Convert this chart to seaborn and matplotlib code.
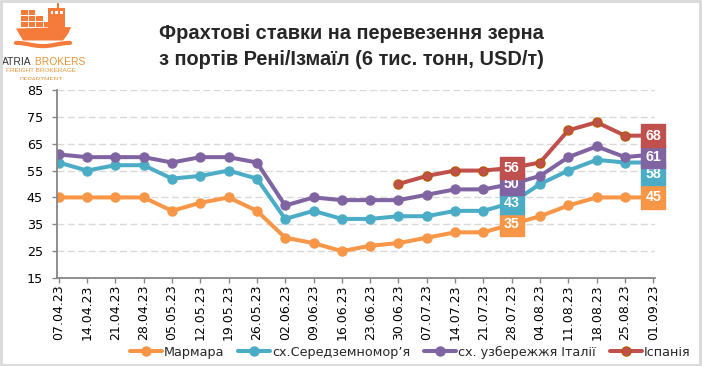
import numpy as np
import pandas as pd
import matplotlib
matplotlib.use("Agg")
import matplotlib.pyplot as plt
import matplotlib.patches as mpatches
from matplotlib.lines import Line2D
from matplotlib import font_manager as fm
import seaborn as sns

dates = ['07.04.23', '14.04.23', '21.04.23', '28.04.23', '05.05.23', '12.05.23',
         '19.05.23', '26.05.23', '02.06.23', '09.06.23', '16.06.23', '23.06.23',
         '30.06.23', '07.07.23', '14.07.23', '21.07.23', '28.07.23', '04.08.23',
         '11.08.23', '18.08.23', '25.08.23', '01.09.23']
marmara = [45, 45, 45, 45, 40, 43, 45, 40, 30, 28, 25, 27,
           28, 30, 32, 32, 35, 38, 42, 45, 45, 45]
east_med = [58, 55, 57, 57, 52, 53, 55, 52, 37, 40, 37, 37,
            38, 38, 40, 40, 43, 50, 55, 59, 58, 58]
italy = [61, 60, 60, 60, 58, 60, 60, 58, 42, 45, 44, 44,
         44, 46, 48, 48, 50, 53, 60, 64, 60, 61]
spain = [np.nan] * 12 + [50, 53, 55, 55, 56, 58, 70, 73, 68, 68]

series_names = ['Мармара', 'сх.Середземномор’я', 'сх. узбережжя Італії', 'Іспанія']
series_values = [marmara, east_med, italy, spain]
colors = ['#F79646', '#4BACC6', '#8064A2', '#C0504D']
palette = dict(zip(series_names, colors))

# indices of points that get value boxes
label_idx = [16, 21]

sns.set_style("white")
names = {f.name for f in fm.fontManager.ttflist}
has_narrow = 'Liberation Sans Narrow' in names
plt.rcParams['font.family'] = ['DejaVu Sans']
if has_narrow:
    title_font = dict(family='Liberation Sans Narrow', size=16, weight='bold')
    legend_font = dict(family='Liberation Sans Narrow', size=10.5)
else:
    title_font = dict(family='Liberation Sans', size=14.4, weight='bold')
    legend_font = dict(family='DejaVu Sans', size=9.2)

rows = []
for name, vals in zip(series_names, series_values):
    for i, v in enumerate(vals):
        rows.append({'idx': i, 'value': v, 'series': name})
df = pd.DataFrame(rows).dropna()

W, H = 702, 366
fig = plt.figure(figsize=(W / 100, H / 100), dpi=100)
ax = fig.add_axes([57 / W, 1 - 278 / H, (655 - 57) / W, 188 / H])

sns.lineplot(data=df, x='idx', y='value', hue='series', hue_order=series_names,
             palette=palette, marker='o', markersize=6.5, linewidth=2.9,
             markeredgewidth=1, legend=False, ax=ax, sort=False)
for line, c in zip(ax.lines, colors):
    line.set_markeredgecolor(c)
ax.lines[3].set_markeredgecolor('#B65708')

ax.set_xlim(-0.06, 21.06)
ax.set_ylim(15, 85)
ax.set_yticks(range(15, 86, 10))
ax.set_xticks(range(len(dates)))
ax.set_xticklabels(dates, rotation=90)
ax.set_xlabel('')
ax.set_ylabel('')
for y in range(25, 86, 10):
    ax.axhline(y, color='#D9D9D9', lw=1, ls=(0, (5, 2.5)), zorder=0)
for s in ['top', 'right']:
    ax.spines[s].set_visible(False)
for s in ['left', 'bottom']:
    ax.spines[s].set_color('#868686')
    ax.spines[s].set_linewidth(1.3)
ax.tick_params(axis='y', length=3.6, width=1, color='#868686', pad=6.5,
               labelsize=9.2, labelcolor='black', left=True, direction='out')
ax.tick_params(axis='x', length=3.6, width=1, color='#868686', pad=1,
               labelsize=9, labelcolor='black', bottom=True, direction='out')

# value boxes
offsets = {(1, 21): -8, (2, 21): -1.5}
for si, (vals, c) in enumerate(zip(series_values, colors)):
    for i in label_idx:
        v = vals[i]
        dy = offsets.get((si, i), 0)
        ax.annotate(f'{v:g}', xy=(i, v), xytext=(0, dy), textcoords='offset points',
                    ha='center', va='center', color='white', fontsize=10.2,
                    fontweight='bold', family='Liberation Sans', zorder=10,
                    bbox=dict(boxstyle='square,pad=0.3', fc=c, ec=c, lw=1))

# legend
handles = []
for c, name in zip(colors, series_names):
    ec = '#B65708' if name == 'Іспанія' else c
    handles.append(Line2D([], [], color=c, lw=2.9, marker='o', markersize=6.5,
                          markerfacecolor=c, markeredgecolor=ec))
fig.legend(handles, series_names, loc='center', bbox_to_anchor=(0.584, 1 - 352 / H),
           ncol=4, frameon=False, prop=legend_font, handlelength=2.5,
           handletextpad=0.15, columnspacing=1.1, borderpad=0)

# title
fig.text(0.5, 1 - 39 / H, 'Фрахтові ставки на перевезення зерна', ha='center',
         va='baseline', **title_font)
fig.text(0.5, 1 - 65 / H, 'з портів Рені/Ізмаїл (6 тис. тонн, USD/т)', ha='center',
         va='baseline', **title_font)

# logo
lg = fig.add_axes([0, 1 - 80 / H, 140 / W, 80 / H])
lg.set_xlim(0, 140)
lg.set_ylim(80, 0)
lg.axis('off')
orange = '#F47B3A'
box_rows = [(10, 2), (16, 3), (22, 4)]
for y0, n in box_rows:
    for k in range(n):
        lg.add_patch(mpatches.Rectangle((21 + k * 7.6, y0), 6.8, 5.2, color=orange, lw=0))
lg.add_patch(mpatches.Rectangle((48, 8), 17, 19.5, color=orange, lw=0))
lg.add_patch(mpatches.Rectangle((57, 2.5), 2.4, 6, color=orange, lw=0))
for k in range(3):
    lg.add_patch(mpatches.Rectangle((50.5 + k * 4.8, 11), 2.8, 2.5, color='white', lw=0))
lg.add_patch(mpatches.Polygon([(16, 28.5), (71, 27), (68, 34), (63, 40.5), (23, 40.5)],
                              closed=True, color=orange, lw=0))
wx = np.linspace(16, 70, 80)
lg.plot(wx, 44.5 - 1.6 * np.cos((wx - 16) / 54 * 2 * np.pi), color=orange, lw=3,
        solid_capstyle='round')
t1 = lg.text(2, 62, 'ATRIA', color='#333333', fontsize=7.4, va='center', ha='left',
             family='Liberation Sans')
lg.annotate(' BROKERS', xy=(1, 0.5), xycoords=t1, va='center', ha='left',
            color='#E5963A', fontsize=7.4, family='Liberation Sans')
lg.text(41, 71, 'FREIGHT BROKERAGE', color='#E5963A', fontsize=4.6, ha='center',
        va='center', family='Liberation Sans')
lg.text(41, 79.5, 'DEPARTMENT', color='#E5963A', fontsize=4.6, ha='center',
        va='center', family='Liberation Sans', clip_on=True)

# frame
fig.add_artist(mpatches.Rectangle((0.002, 0.004), 0.995, 0.993, transform=fig.transFigure,
                                  fill=False, ec='#D9D9D9', lw=2))

fig.savefig('out.png', dpi=100)
